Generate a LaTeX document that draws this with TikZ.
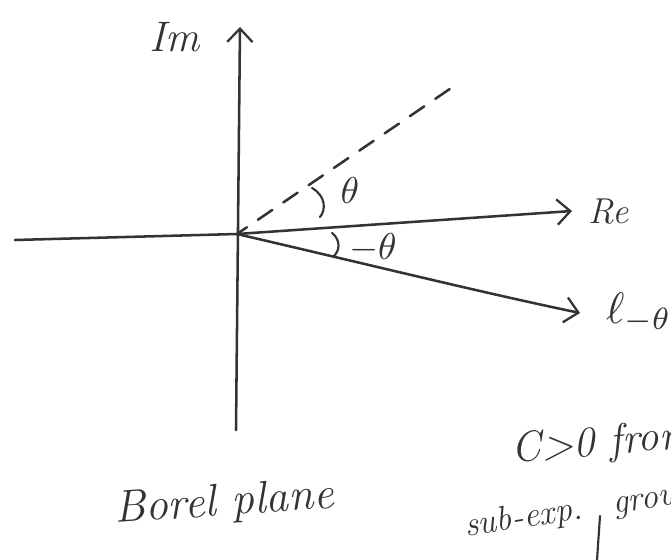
\documentclass[tikz,border=0pt]{standalone}
\usepackage{graphicx}
\usetikzlibrary{arrows.meta}
\begin{document}
\begin{tikzpicture}[x=0.75pt,y=-0.75pt,
  ink/.style={line width=1.9pt,draw=black!80,line cap=round,line join=round},
  opentip/.style={-{Straight Barb[length=10pt,width=19pt,line width=1.7pt]}},
  hand/.style={text=black!80,inner sep=0pt},
]
\useasboundingbox (0,0) rectangle (671,560);
\clip (0,0) rectangle (671,560);
\coordinate (O) at (237,234);
\coordinate (B) at (236,430);
\coordinate (T) at (240,27);
\coordinate (L) at (15,240);
\coordinate (R) at (572,211);
\coordinate (Lm) at (580,313);
\coordinate (D) at (460,82);
\draw[ink,opentip] (B) -- (T);
\draw[ink] (L) -- (O);
\draw[ink,opentip] (O) -- (R);
\draw[ink,opentip] (O) .. controls (400,272) and (480,292) .. (Lm);
\draw[ink,dash pattern=on 13pt off 10pt,dash phase=4pt] (O) -- (D);
\node[hand,font=\itshape\fontsize{32}{36}\selectfont] (im) at (175,37) {Im};
\node[hand,font=\itshape\fontsize{27}{30}\selectfont] (re) at (609,212) {Re};
\node[hand] (lt) at (639,313) {\scalebox{3.3}{$\ell_{-\theta}$}};
\draw[ink,line width=1.6pt] (312,188) .. controls (326,196) and (326,210) .. (320,217);
\node[hand] (th) at (350,191) {\scalebox{2.8}{$\theta$}};
\draw[ink,line width=1.6pt] (332,233) .. controls (341,240) and (340,251) .. (333,257);
\node[hand] (mth) at (373,248) {\scalebox{2.8}{$-\theta$}};
\node[hand,font=\itshape\fontsize{34}{38}\selectfont,rotate=4,anchor=base west] (bp) at (115,523) {Borel plane};
\node[hand,font=\itshape\fontsize{32}{36}\selectfont,rotate=5,anchor=base west] (c0) at (512,463) {C{>}0 from};
\node[hand,font=\itshape\fontsize{26}{30}\selectfont,rotate=9,anchor=base west] (se) at (466,537) {sub-exp.\hspace{0.9em}growth};
\coordinate (v1) at (600,516);
\coordinate (v2) at (597,560);
\draw[ink,line width=1.6pt] (v1) -- (v2);
\end{tikzpicture}
\end{document}
